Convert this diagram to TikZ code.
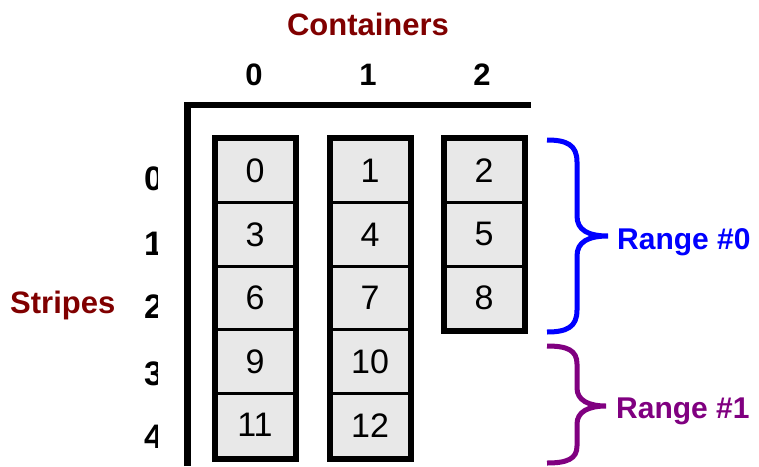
\documentclass[tikz,border=0pt]{standalone}
\usepackage{fontspec}
\setmainfont{Liberation Sans}
\definecolor{hdr}{RGB}{128,0,0}
\definecolor{rngA}{RGB}{0,0,255}
\definecolor{rngB}{RGB}{128,0,128}
\definecolor{cellgray}{RGB}{232,232,232}
\begin{document}
\begin{tikzpicture}[x=1pt,y=-1pt,
  cell/.style={draw, line width=3pt, fill=cellgray, minimum width=78pt, minimum height=63.6pt, inner sep=0pt, font=\fontsize{34}{34}\selectfont},
  colbox/.style={draw, line width=6pt},
  axis/.style={line width=6.5pt},
  bold31/.style={inner sep=0pt, font=\fontsize{31}{31}\selectfont\bfseries},
  rowlab/.style={inner sep=0pt, anchor=base west, font=\fontsize{34}{34}\selectfont\bfseries},
  bracestyle/.style={line width=5pt}
]
\useasboundingbox (0,0) rectangle (759,466);
% title labels
\node[bold31, text=hdr, anchor=base] (containers) at (368,35) {Containers};
\node[bold31, text=hdr, anchor=base west] (stripes) at (10,313) {Stripes};
% column headers
\node[bold31, anchor=base] (h0) at (254,85) {0};
\node[bold31, anchor=base] (h1) at (368,85) {1};
\node[bold31, anchor=base] (h2) at (482,85) {2};
% row labels (clipped)
\begin{scope}
\clip (0,0) rectangle (157.5,466);
\node[rowlab] (r0) at (144,190) {0};
\node[rowlab] (r1) at (144,255) {1};
\node[rowlab] (r2) at (144,318) {2};
\node[rowlab] (r3) at (144,385) {3};
\node[rowlab] (r4) at (144,448) {4};
\end{scope}
% axes
\coordinate (ax0) at (187.5,466);
\coordinate (ax1) at (187.5,105);
\coordinate (ax2) at (531,105);
\draw[axis] (ax0) -- (ax1) -- (ax2);
% cells
\node[cell] (c0) at (255,170.8) {0};
\node[cell] (c3) at (255,234.4) {3};
\node[cell] (c6) at (255,298) {6};
\node[cell] (c9) at (255,361.6) {9};
\node[cell] (c11) at (255,425.2) {11};
\node[cell] (c1) at (370,170.8) {1};
\node[cell] (c4) at (370,234.4) {4};
\node[cell] (c7) at (370,298) {7};
\node[cell] (c10) at (370,361.6) {10};
\node[cell] (c12) at (370,425.2) {12};
\node[cell] (c2) at (484,170.8) {2};
\node[cell] (c5) at (484,234.4) {5};
\node[cell] (c8) at (484,298) {8};
\draw[colbox] (c0.north west) rectangle (c11.south east);
\draw[colbox] (c1.north west) rectangle (c12.south east);
\draw[colbox] (c2.north west) rectangle (c8.south east);
% braces
\coordinate (b0t) at (547,140);
\coordinate (b0tip) at (608,236);
\coordinate (b0b) at (547,332);
\draw[bracestyle, rngA] (b0t) .. controls (567,140) and (577,145) .. (577,162) -- (577,216) .. controls (577,230) and (588,236) .. (b0tip)
  .. controls (588,236) and (577,242) .. (577,256) -- (577,310) .. controls (577,327) and (567,332) .. (b0b);
\node[bold31, text=rngA, anchor=base west, font=\fontsize{30}{30}\selectfont\bfseries] (range0) at (617,249) {Range \#0};
\coordinate (b1t) at (547,346);
\coordinate (b1tip) at (606,406);
\coordinate (b1b) at (547,463);
\draw[bracestyle, rngB] (b1t) .. controls (567,346) and (577,350) .. (577,364) -- (577,388) .. controls (577,400) and (588,406) .. (b1tip)
  .. controls (588,406) and (577,412) .. (577,424) -- (577,446) .. controls (577,459) and (567,463) .. (b1b);
\node[bold31, text=rngB, anchor=base west, font=\fontsize{30}{30}\selectfont\bfseries] (range1) at (616,418) {Range \#1};
\end{tikzpicture}
\end{document}
